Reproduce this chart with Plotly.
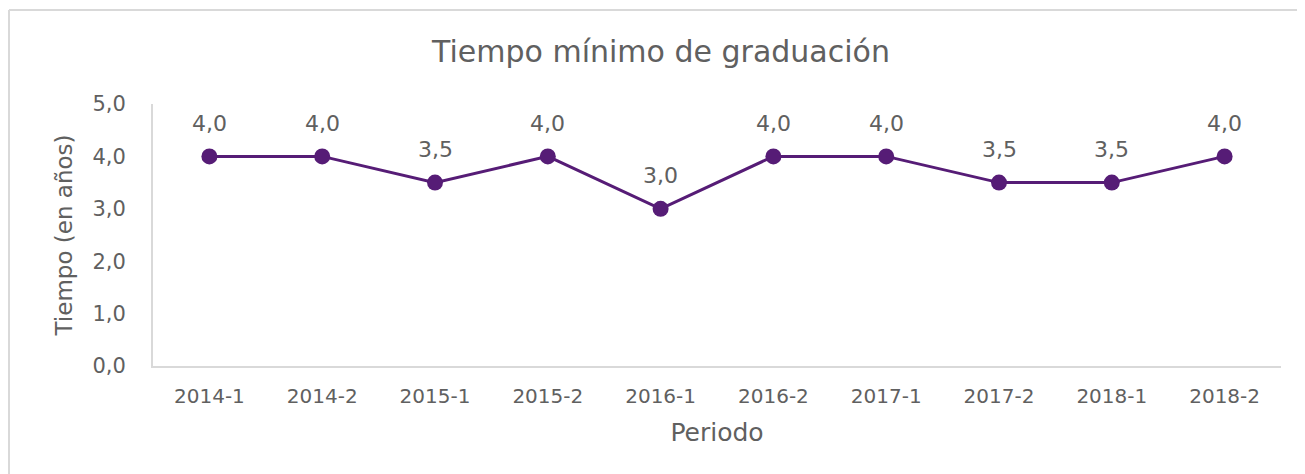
import plotly.graph_objects as go

periodos = ["2014-1", "2014-2", "2015-1", "2015-2", "2016-1",
            "2016-2", "2017-1", "2017-2", "2018-1", "2018-2"]
tiempo = [4.0, 4.0, 3.5, 4.0, 3.0, 4.0, 4.0, 3.5, 3.5, 4.0]
y_ticks = [0, 1, 2, 3, 4, 5]

# page offset (browser default body margin)
OFF = 8
W, H = 1305, 474
# desired plot-area edges in page pixels
PL, PR, PT, PB = 153, 1281, 104, 366
L, T = PL - OFF, PT - OFF
R = W - (PR - OFF)
B = H - (PB - OFF)
pw, ph = PR - PL, PB - PT

def px_x(p):
    return (p - PL) / pw

def px_y(p):
    return (PB - p) / ph

PURPLE = "#561C76"
GREY_TXT = "#606060"
GREY_LINE = "#D9D9D9"
FONT = "DejaVu Sans"

fig = go.Figure()
fig.add_trace(go.Scatter(
    x=periodos, y=tiempo, mode="lines+markers",
    line=dict(color=PURPLE, width=3),
    marker=dict(color=PURPLE, size=16),
    showlegend=False, hoverinfo="skip",
))

for p, v in zip(periodos, tiempo):
    fig.add_annotation(
        x=p, y=v, text=f"{v:.1f}".replace(".", ","),
        showarrow=False, yshift=33,
        font=dict(family=FONT, size=22, color=GREY_TXT),
    )

fig.update_layout(
    width=W, height=H,
    margin=dict(l=L, r=R, t=T, b=B, autoexpand=False),
    paper_bgcolor="white", plot_bgcolor="white",
    separators=",.",
    font=dict(family=FONT, color=GREY_TXT),
    title=dict(
        text="Tiempo mínimo de graduación",
        x=px_x(661), xref="paper", xanchor="center",
        y=1 - (51 - OFF) / H, yref="container", yanchor="middle",
        font=dict(family=FONT, size=30, color=GREY_TXT),
    ),
    xaxis=dict(
        type="category", range=[-0.5, len(periodos) - 0.5],
        showline=True, linecolor=GREY_LINE, linewidth=2,
        showgrid=False, zeroline=False, ticks="",
        tickfont=dict(family=FONT, size=20, color=GREY_TXT),
        ticklabelstandoff=11,
        title=dict(text="Periodo", standoff=16,
                   font=dict(family=FONT, size=25, color=GREY_TXT)),
    ),
    yaxis=dict(
        range=[0, 5], tickvals=y_ticks, tickformat=".1f",
        showline=True, linecolor=GREY_LINE, linewidth=2,
        showgrid=False, zeroline=False, ticks="",
        tickfont=dict(family=FONT, size=21, color=GREY_TXT),
        ticklabelstandoff=21,
        title=dict(text="Tiempo (en años)", standoff=13,
                   font=dict(family=FONT, size=23, color=GREY_TXT)),
    ),
    shapes=[
        dict(type="line", xref="paper", yref="paper",
             x0=px_x(9), x1=px_x(9), y0=px_y(10), y1=px_y(490),
             line=dict(color=GREY_LINE, width=2)),
        dict(type="line", xref="paper", yref="paper",
             x0=px_x(9), x1=px_x(1320), y0=px_y(10), y1=px_y(10),
             line=dict(color=GREY_LINE, width=2)),
    ],
)

fig.write_html("out.html")
